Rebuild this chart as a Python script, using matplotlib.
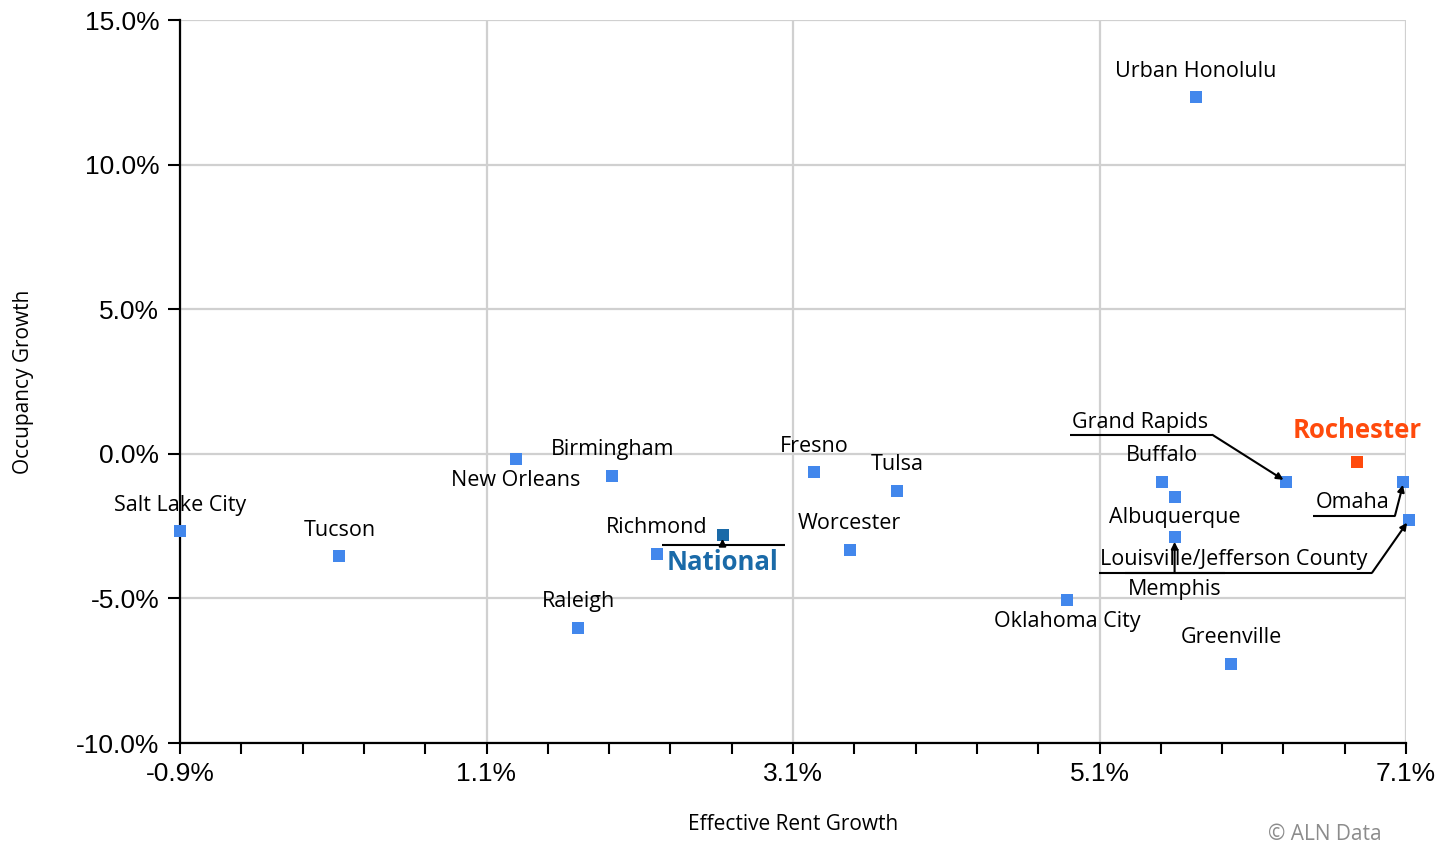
import numpy as np
import matplotlib
matplotlib.use("Agg")
import matplotlib.pyplot as plt

# data (effective rent growth %, occupancy growth %)
cities = ["Salt Lake City", "Tucson", "New Orleans", "Birmingham", "Raleigh",
          "Richmond", "National", "Fresno", "Tulsa", "Worcester",
          "Oklahoma City", "Urban Honolulu", "Buffalo", "Albuquerque", "Memphis",
          "Grand Rapids", "Greenville", "Rochester", "Omaha",
          "Louisville/Jefferson County"]
rent_growth = [-0.90, 0.14, 1.29, 1.92, 1.70,
               2.21, 2.64, 3.24, 3.78, 3.47,
               4.89, 5.73, 5.51, 5.59, 5.59,
               6.32, 5.96, 6.78, 7.08,
               7.12]
occ_growth = [-2.66, -3.53, -0.17, -0.76, -6.02,
              -3.46, -2.80, -0.62, -1.28, -3.32,
              -5.05, 12.34, -0.97, -1.49, -2.87,
              -0.97, -7.26, -0.28, -0.97,
              -2.28]
x_ticks = [-0.9, 1.1, 3.1, 5.1, 7.1]
x_tick_labels = ["-0.9%", "1.1%", "3.1%", "5.1%", "7.1%"]
y_ticks = [-10, -5, 0, 5, 10, 15]
y_tick_labels = ["-10.0%", "-5.0%", "0.0%", "5.0%", "10.0%", "15.0%"]

# label offsets in pixels (dx, dy up)
label_pos = {
    "Salt Lake City": (0, 25), "Tucson": (0, 25), "New Orleans": (0, -22),
    "Birmingham": (0, 26), "Raleigh": (0, 26), "Richmond": (0, 26),
    "National": (0, -28), "Fresno": (0, 25), "Tulsa": (0, 26),
    "Worcester": (0, 26), "Oklahoma City": (0, -22), "Urban Honolulu": (0, 25),
    "Buffalo": (0, 26), "Albuquerque": (0, -21), "Memphis": (0, -53),
    "Grand Rapids": (-146, 59), "Greenville": (0, 26), "Rochester": (0, 31),
    "Omaha": (-50, -21), "Louisville/Jefferson County": (-175, -40),
}
# leaders: (shelf dy, shelf x0, shelf x1, arrow start dx, arrow end dx, arrow end dy)
leaders = {
    "National": (-10, -61, 62, 0, 0, -4),
    "Grand Rapids": (47, -216, -74, -74, -3, 2),
    "Omaha": (-34, -90, -8, -8, 0, -3),
    "Louisville/Jefferson County": (-53, -310, -37, -37, -2, -3),
    "Memphis": (-36, -50, 50, 0, 0, -5),
}

BLUE = "#4287ec"
NAVY = "#1a6aa8"
ORANGE = "#ff4a0c"

W, H = 1450, 846
fig = plt.figure(figsize=(W / 100, H / 100), dpi=100)
ax = fig.add_axes([180 / W, 103 / H, (1406 - 180) / W, (743 - 20) / H])
ax.set_xlim(-0.9, 7.1)
ax.set_ylim(-10, 15)

for s in ["top", "right"]:
    ax.spines[s].set_visible(False)
for s in ["left", "bottom"]:
    ax.spines[s].set_linewidth(1.6)
    ax.spines[s].set_color("black")

ax.set_xticks(x_ticks)
ax.set_xticklabels(x_tick_labels, family="Liberation Sans", fontsize=19)
ax.set_xticks(np.arange(-0.9, 7.11, 0.4), minor=True)
ax.set_yticks(y_ticks)
ax.set_yticklabels(y_tick_labels, family="Liberation Sans", fontsize=19)
ax.tick_params(axis="x", which="both", length=8, width=1.5, pad=6)
ax.tick_params(axis="y", length=9, width=1.5, pad=6)
ax.grid(True, which="major", color="#d0d0d0", linewidth=1.6)
ax.set_axisbelow(True)

ax.set_xlabel("Effective Rent Growth", family="Open Sans", fontsize=15, labelpad=20)
ax.set_ylabel("Occupancy Growth", family="Open Sans", fontsize=15, labelpad=30)

inv = ax.transData.inverted()
for name, x, y in zip(cities, rent_growth, occ_growth):
    color = BLUE
    if name == "National":
        color = NAVY
    elif name == "Rochester":
        color = ORANGE
    ax.scatter([x], [y], marker="s", s=72, color=color, zorder=3, clip_on=False,
               linewidths=0)

    dx, dy = label_pos[name]
    kw = dict(family="Open Sans", fontsize=15.5, color="black")
    if name == "National":
        kw = dict(family="Open Sans", fontsize=18.5, color=NAVY, weight="bold")
    elif name == "Rochester":
        kw = dict(family="Open Sans", fontsize=18.5, color=ORANGE, weight="bold")
    ax.annotate(name, (x, y), xytext=(dx, dy), textcoords="offset pixels",
                ha="center", va="center", zorder=4, annotation_clip=False, **kw)

    if name in leaders:
        sy, sx0, sx1, ax0, ex, ey = leaders[name]
        p = ax.transData.transform((x, y))
        a = inv.transform((p[0] + sx0, p[1] + sy))
        b = inv.transform((p[0] + sx1, p[1] + sy))
        c = inv.transform((p[0] + ax0, p[1] + sy))
        d = inv.transform((p[0] + ex, p[1] + ey))
        ax.plot([a[0], b[0]], [a[1], b[1]], color="black", lw=1.5, zorder=4,
                clip_on=False, solid_capstyle="butt")
        ax.annotate("", xy=d, xytext=c, annotation_clip=False, zorder=4,
                    arrowprops=dict(arrowstyle="-|>", color="black", lw=1.5,
                                    shrinkA=0, shrinkB=0, mutation_scale=10))

fig.text(1325 / W, 1 - 834 / H, "\u00a9 ALN Data", family="Open Sans", fontsize=15,
         color="#8c8c8c", ha="center", va="center")

fig.savefig("out.png", dpi=100)
